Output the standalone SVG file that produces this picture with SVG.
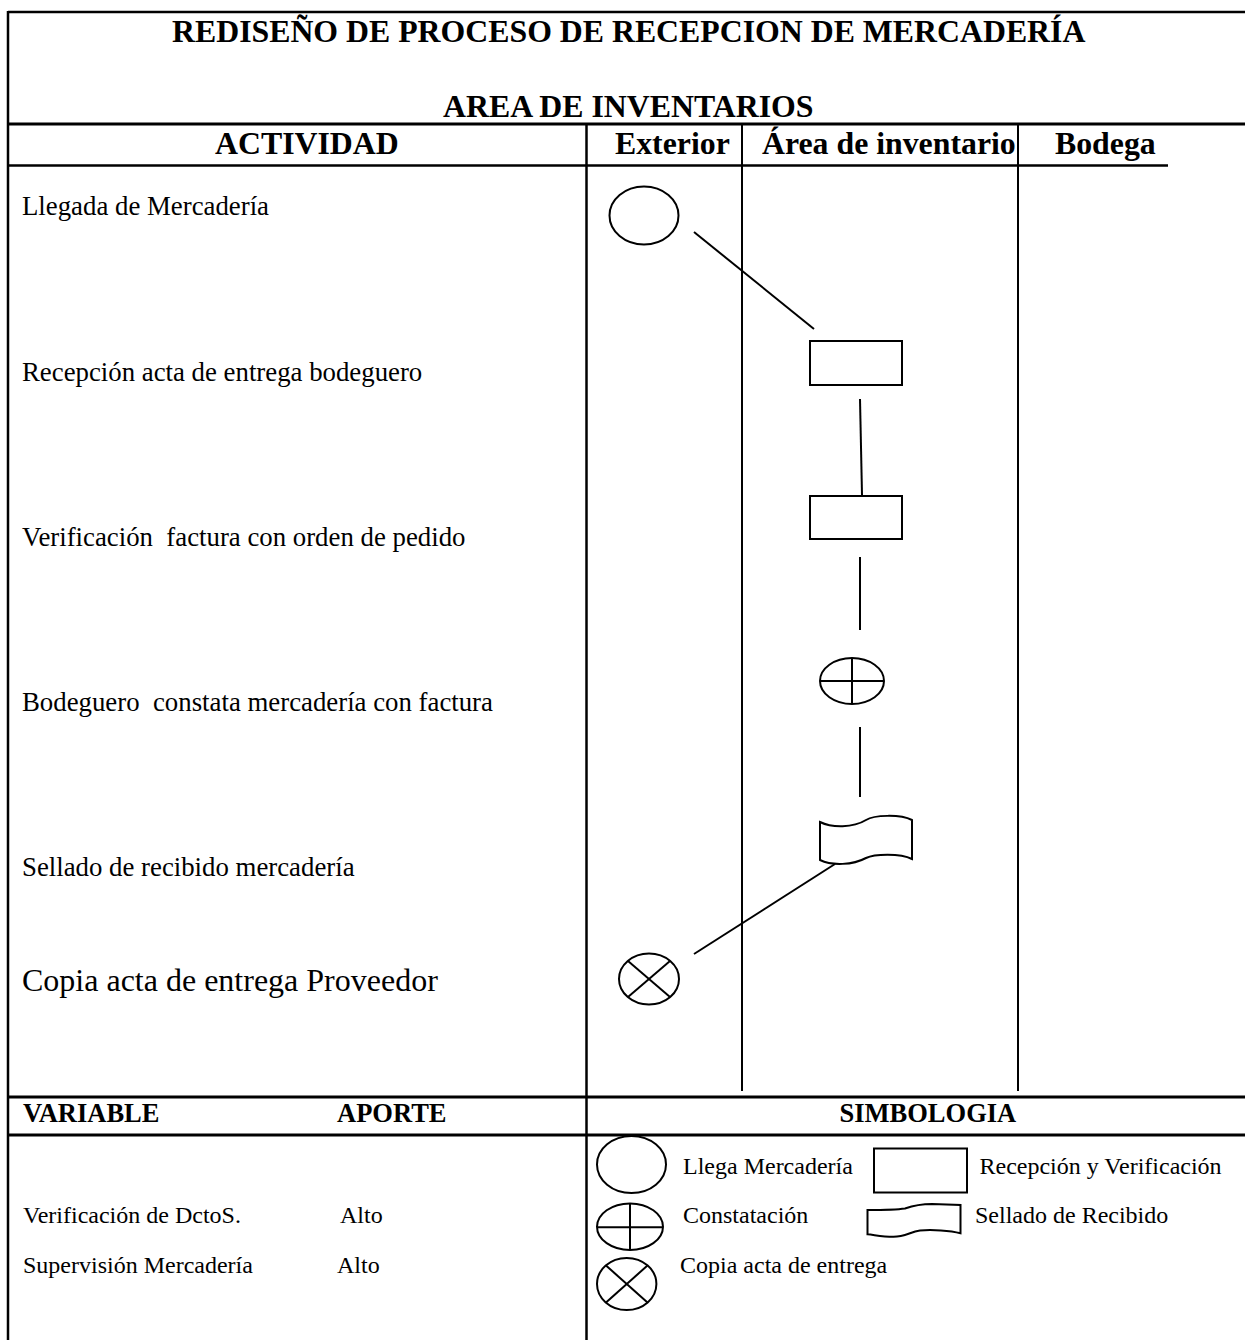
<svg xmlns="http://www.w3.org/2000/svg" width="1245" height="1340" viewBox="0 0 1245 1340">
  <style>
    text { font-family: "Liberation Serif", "Times New Roman", serif; fill: #000; white-space: pre; }
    .title { font-size: 31.8px; font-weight: bold; }
    .act { font-size: 26.8px; }
    .act-lg { font-size: 32px; }
    .sub { font-size: 26.5px; font-weight: bold; }
    .leg { font-size: 24px; }
    .grid { stroke: #000; stroke-width: 2.5; fill: none; }
    .lane { stroke: #000; stroke-width: 2; fill: none; }
    .shape { stroke: #000; stroke-width: 2; fill: #fff; }
    .link { stroke: #000; stroke-width: 2; fill: none; }
  </style>

  <rect width="1245" height="1340" fill="#fff"/>

  <!-- table frame -->
  <g id="table">
    <line class="grid" x1="8" y1="12" x2="1245" y2="12"/>
    <line class="grid" x1="8" y1="11" x2="8" y2="1340"/>
    <line class="grid" x1="8" y1="124" x2="1245" y2="124" style="stroke-width:3"/>
    <line class="grid" x1="8" y1="165.5" x2="1168" y2="165.5"/>
    <line class="grid" x1="586.5" y1="124" x2="586.5" y2="1340"/>
    <line class="lane" x1="742" y1="124" x2="742" y2="1091"/>
    <line class="lane" x1="1018" y1="124" x2="1018" y2="1091"/>
    <line class="grid" x1="8" y1="1097" x2="1245" y2="1097" style="stroke-width:3"/>
    <line class="grid" x1="8" y1="1135" x2="1245" y2="1135" style="stroke-width:3"/>
  </g>

  <!-- headings -->
  <g id="headings">
    <text class="title" x="172" y="41.5">REDISEÑO DE PROCESO DE RECEPCION DE MERCADERÍA</text>
    <text class="title" x="443" y="117">AREA DE INVENTARIOS</text>
    <text class="title" x="215" y="154">ACTIVIDAD</text>
    <text class="title" x="615" y="154">Exterior</text>
    <text class="title" x="762" y="154">Área de inventario</text>
    <text class="title" x="1055" y="154">Bodega</text>
  </g>

  <!-- activity labels -->
  <g id="activities">
    <text class="act" x="22" y="215">Llegada de Mercadería</text>
    <text class="act" x="22" y="381">Recepción acta de entrega bodeguero</text>
    <text class="act" x="22" y="546">Verificación  factura con orden de pedido</text>
    <text class="act" x="22" y="711">Bodeguero  constata mercadería con factura</text>
    <text class="act" x="22" y="876">Sellado de recibido mercadería</text>
    <text class="act-lg" x="22" y="991">Copia acta de entrega Proveedor</text>
  </g>

  <!-- connectors -->
  <g id="connectors">
    <line class="link" x1="694" y1="232" x2="814" y2="329"/>
    <line class="link" x1="860" y1="399" x2="862" y2="495"/>
    <line class="link" x1="860" y1="557" x2="860" y2="630"/>
    <line class="link" x1="860" y1="727" x2="860" y2="797"/>
    <line class="link" x1="835" y1="864" x2="694" y2="954"/>
  </g>

  <!-- flow nodes -->
  <g id="n-llegada">
    <ellipse class="shape" cx="644" cy="215.5" rx="34.5" ry="29"/>
  </g>
  <g id="n-recepcion">
    <rect class="shape" x="810" y="341" width="92" height="44"/>
  </g>
  <g id="n-verificacion">
    <rect class="shape" x="810" y="496" width="92" height="43"/>
  </g>
  <g id="n-constatacion">
    <ellipse class="shape" cx="852" cy="681" rx="32" ry="23"/>
    <line class="link" x1="820" y1="681" x2="884" y2="681"/>
    <line class="link" x1="852" y1="658" x2="852" y2="704"/>
  </g>
  <g id="n-sellado">
    <path class="shape" d="M820,822 C832,828 853,828 866,820 C874,815 900,814 912,820 L912,859 C900,853 874,854 866,858 C853,865 832,866 820,860 Z"/>
  </g>
  <g id="n-copia">
    <ellipse class="shape" cx="649" cy="979" rx="30" ry="25.5"/>
    <line class="link" x1="628" y1="961" x2="670" y2="997"/>
    <line class="link" x1="670" y1="961" x2="628" y2="997"/>
  </g>

  <!-- variables section -->
  <g id="variables">
    <text class="sub" x="23" y="1122">VARIABLE</text>
    <text class="sub" x="337" y="1122">APORTE</text>
    <text class="leg" x="23" y="1223">Verificación de DctoS.</text>
    <text class="leg" x="340" y="1223">Alto</text>
    <text class="leg" x="23" y="1273">Supervisión Mercadería</text>
    <text class="leg" x="337" y="1273">Alto</text>
  </g>

  <!-- symbol legend -->
  <g id="legend">
    <text class="sub" x="839.5" y="1122">SIMBOLOGIA</text>
    <ellipse class="shape" cx="631.5" cy="1164.5" rx="34.5" ry="28.5"/>
    <text class="leg" x="683" y="1174">Llega Mercadería</text>
    <rect class="shape" x="874" y="1148.5" width="93" height="44"/>
    <text class="leg" x="979.5" y="1174">Recepción y Verificación</text>
    <ellipse class="shape" cx="630" cy="1226.7" rx="33" ry="23.3"/>
    <line class="link" x1="597" y1="1227.3" x2="663" y2="1227.3"/>
    <line class="link" x1="630" y1="1203.4" x2="630" y2="1250"/>
    <text class="leg" x="683" y="1223">Constatación</text>
    <path class="shape" d="M867.5,1210 C880,1210 895,1210 905,1208.5 C915,1205 922,1204 932,1204 L960.5,1205 L960.5,1233.3 C950,1230.5 932,1229.5 920,1230.5 C910,1232 905,1236.7 893.5,1236.7 C882,1236.7 875,1235 867.5,1234.3 Z"/>
    <text class="leg" x="975" y="1223">Sellado de Recibido</text>
    <ellipse class="shape" cx="626.7" cy="1284" rx="29.7" ry="26"/>
    <line class="link" x1="606" y1="1265.5" x2="647.5" y2="1302.5"/>
    <line class="link" x1="647.5" y1="1265.5" x2="606" y2="1302.5"/>
    <text class="leg" x="680" y="1273">Copia acta de entrega</text>
  </g>
</svg>
